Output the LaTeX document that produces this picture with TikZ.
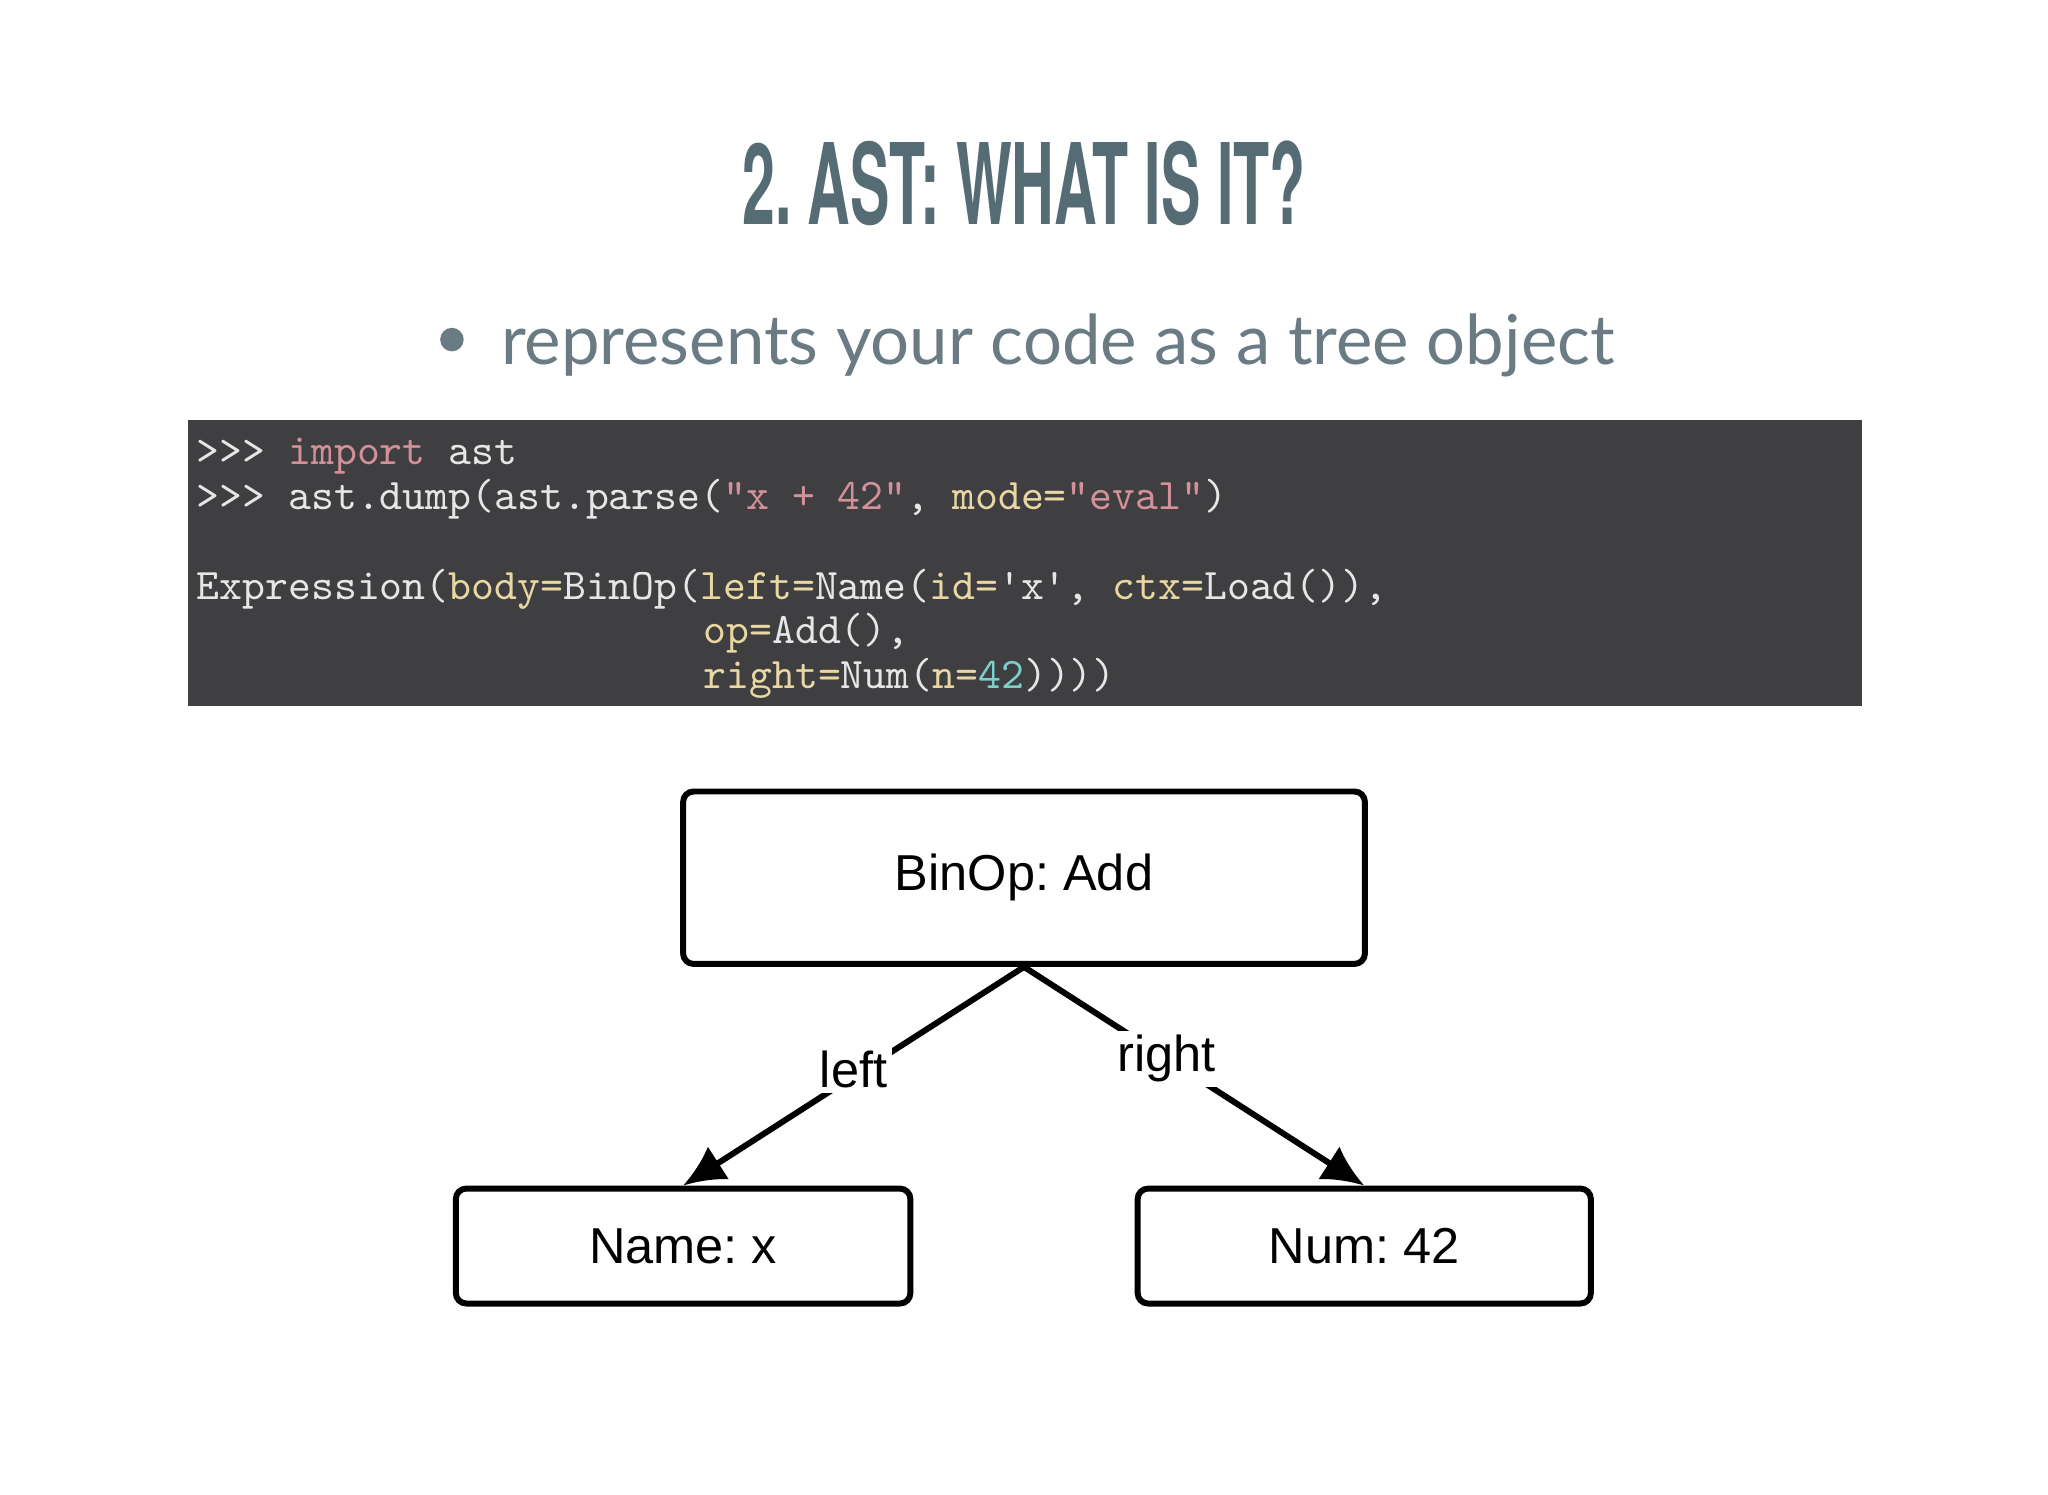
\documentclass[tikz,border=0pt]{standalone}
\usepackage{fontspec}
\usepackage{graphicx}
\usepackage{tikz}
\usetikzlibrary{positioning}
\usetikzlibrary{arrows.meta}

\newfontfamily\titlefont{TeX Gyre Heros}
\newfontfamily\bodyfont{Lato}
\newfontfamily\boxfont{Liberation Sans}

\definecolor{titlegrey}{HTML}{566C74}
\definecolor{bodygrey}{HTML}{6A7B83}
\definecolor{codebg}{HTML}{3F3F41}
\definecolor{codewhite}{HTML}{E6E6E6}
\definecolor{codepink}{HTML}{D4909A}
\definecolor{codeyellow}{HTML}{E8D7A2}
\definecolor{codecyan}{HTML}{7DCFCB}

\newcommand{\kwd}[1]{\textcolor{codepink}{#1}}
\newcommand{\argn}[1]{\textcolor{codeyellow}{#1}}
\newcommand{\strl}[1]{\textcolor{codepink}{#1}}
\newcommand{\numl}[1]{\textcolor{codecyan}{#1}}
\newcommand{\dq}{\char"22}
\newcommand{\sq}{\char"27}

\begin{document}
\frenchspacing
\begin{tikzpicture}[
    treebox/.style={draw, line width=1.3pt, rounded corners=0.08cm, font=\boxfont\fontsize{11}{13}\selectfont},
    codeline/.style={anchor=base west, inner sep=0pt, text=codewhite, font=\ttfamily\fontsize{9.5}{11}\selectfont},
    edgelabel/.style={fill=white, inner sep=1pt, font=\boxfont\fontsize{11}{13}\selectfont},
    treeedge/.style={-{Latex[length=0.32cm, width=0.30cm]}, line width=1.3pt}
  ]
  % Fondo
  \fill[white] (0,0) rectangle (15.68,-11.44);
  \useasboundingbox (0,0) rectangle (15.68,-11.44);

  % Titulo
  \node[anchor=base, inner sep=0pt, text=titlegrey] (title) at (7.84,-1.72)
    {\scalebox{0.525}[1]{\titlefont\bfseries\fontsize{24.5}{28}\selectfont 2. AST: WHAT IS IT?}};
  \node[circle, fill=bodygrey, minimum size=0.18cm, inner sep=0pt] (dot) at (3.46,-2.60) {};
  \node[anchor=base west, inner sep=0pt, text=bodygrey, font=\bodyfont\fontsize{15}{18}\selectfont] (bullet) at (3.83,-2.79)
    {represents your code as a tree object};

  % Codigo
  \node[fill=codebg, anchor=north west, minimum width=12.82cm, minimum height=2.19cm, inner sep=0pt] (code) at (1.43,-3.21) {};
  \node[codeline] (l1) at (1.50,-3.56) {>>> \kwd{import} ast};
  \node[codeline] (l2) at (1.50,-3.90) {>>> ast.dump(ast.parse(\strl{\dq x + 42\dq}, \argn{mode=}\strl{\dq eval\dq})};
  \node[codeline] (l3) at (1.50,-4.59) {Expression(\argn{body=}BinOp(\argn{left=}Name(\argn{id=}\sq x\sq, \argn{ctx=}Load()),};
  \node[codeline] (l4) at (5.38,-4.93) {\argn{op=}Add(),};
  \node[codeline] (l5) at (5.38,-5.27) {\argn{right=}Num(\argn{n=}\numl{42}))))};

  % Nodos
  \node[treebox, minimum width=5.22cm, minimum height=1.32cm] (binop) at (7.84,-6.72) {BinOp: Add};
  \node[treebox, minimum width=3.48cm, minimum height=0.88cm] (name) at (5.23,-9.54) {Name: x};
  \node[treebox, minimum width=3.47cm, minimum height=0.88cm] (num) at (10.445,-9.54) {Num: 42};

  % Aristas
  \draw[treeedge] (binop.south) -- node[edgelabel, pos=0.5, yshift=0.05cm] {left} (name.north);
  \draw[treeedge] (binop.south) -- node[edgelabel, pos=0.42] {right} (num.north);
\end{tikzpicture}
\end{document}
